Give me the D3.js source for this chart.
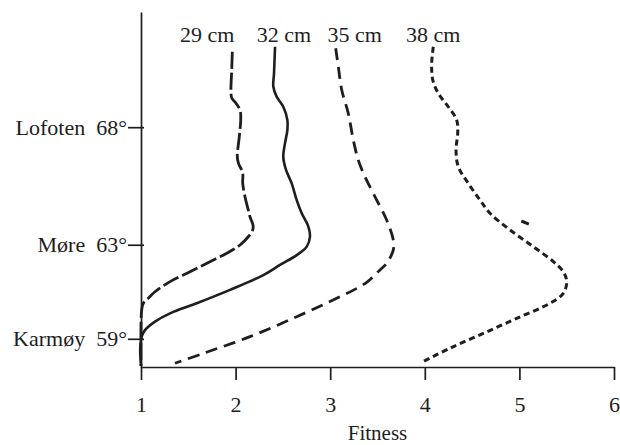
<!DOCTYPE html>
<html>
<head>
<meta charset="utf-8">
<script src="https://cdn.jsdelivr.net/npm/d3@7"></script>
<style>
  html, body { margin: 0; padding: 0; background: #fff; }
  svg { display: block; }
  text { font-family: "Liberation Serif", "Times New Roman", serif; fill: #1e1e1e; }
</style>
</head>
<body>
<svg id="chart" width="620" height="445"></svg>
<script>
// Axis ticks
const fitnessTicks = [1, 2, 3, 4, 5, 6];
const latitudeTicks = [59, 63, 68];
const siteNames = ["Karmøy", "Møre", "Lofoten"];
const lengthLabels = ["29 cm", "32 cm", "35 cm", "38 cm"];

// Fitness profiles along the coast: [fitness, latitude °N]
const fitness29cm = [
  [1.965, 71.21], [1.959, 70.43], [1.951, 69.58], [1.959, 69.24], [1.994, 69.07],
  [2.047, 68.73], [2.054, 68.31], [2.039, 67.60], [2.018, 66.75], [2.029, 66.48],
  [2.075, 66.05], [2.075, 65.63], [2.099, 65.04], [2.134, 64.48], [2.152, 64.19],
  [2.184, 63.84], [2.181, 63.63], [2.134, 63.34], [2.047, 62.99], [1.906, 62.64],
  [1.729, 62.28], [1.518, 61.85], [1.307, 61.43], [1.148, 61.00], [1.077, 60.72],
  [1.024, 60.51], [1.007, 60.22], [1.000, 59.60], [1.000, 57.85]
];
const fitness32cm = [
  [2.417, 71.42], [2.406, 70.29], [2.399, 69.72], [2.434, 69.30], [2.504, 68.87],
  [2.547, 68.31], [2.547, 67.88], [2.522, 67.31], [2.504, 66.75], [2.533, 66.18],
  [2.593, 65.61], [2.646, 64.90], [2.699, 64.34], [2.769, 63.77], [2.786, 63.34],
  [2.752, 62.92], [2.646, 62.56], [2.469, 62.14], [2.293, 61.71], [1.941, 61.08],
  [1.589, 60.51], [1.307, 60.08], [1.148, 59.73], [1.042, 59.37], [1.007, 59.09],
  [0.992, 58.60], [1.000, 57.85]
];
const fitness35cm = [
  [3.058, 71.36], [3.086, 70.57], [3.122, 69.58], [3.191, 68.59], [3.244, 67.46],
  [3.297, 66.60], [3.368, 65.89], [3.474, 65.04], [3.597, 64.05], [3.667, 63.20],
  [3.667, 62.78], [3.597, 62.21], [3.526, 61.93], [3.386, 61.40], [3.104, 60.79],
  [2.646, 59.94], [2.152, 59.09], [1.659, 58.38], [1.359, 57.96]
];
const fitness38cm = [
  [4.090, 71.42], [4.073, 70.72], [4.084, 70.01], [4.143, 69.44], [4.248, 68.87],
  [4.337, 68.31], [4.348, 67.74], [4.330, 67.03], [4.354, 66.32], [4.460, 65.61],
  [4.584, 64.90], [4.689, 64.34], [4.901, 63.63], [5.147, 62.92], [5.359, 62.28],
  [5.464, 61.85], [5.500, 61.43], [5.464, 60.93], [5.323, 60.51], [4.971, 59.87],
  [4.618, 59.23], [4.266, 58.60], [3.984, 58.03]
];
// short isolated stroke beside the 38 cm profile
const fragment38cm = [[5.02, 64.01], [5.10, 63.88]];

const profiles = [fitness29cm, fitness32cm, fitness35cm, fitness38cm];

// Drawing styles per profile
const lineStyles = [
  { dash: "17,4", width: 2.8, labelDx: -25 },
  { dash: null,   width: 2.6, labelDx: 9 },
  { dash: "12,7", width: 2.8, labelDx: 19 },
  { dash: "6,4",  width: 3.0, labelDx: 0 }
];

const svg = d3.select("#chart");
const ink = "#1e1e1e";
const fontSize = 22;

const x = d3.scaleLinear().domain([1, 6]).range([141, 614]);
const y = d3.scaleLinear().domain([57.8, 72.9]).range([367, 12]);

// x axis
const xAxis = svg.append("g")
  .attr("transform", `translate(0,${y.range()[0]})`)
  .call(d3.axisBottom(x).tickValues(fitnessTicks).tickFormat(d3.format("d"))
    .tickSize(13).tickSizeOuter(0).tickPadding(16));
// y axis
const yAxis = svg.append("g")
  .attr("transform", `translate(${x.range()[0]},0)`)
  .call(d3.axisLeft(y).tickValues(latitudeTicks)
    .tickFormat((d, i) => siteNames[i] + "\u00a0\u00a0" + d + "°")
    .tickSize(13).tickSizeOuter(0).tickPadding(1));

[xAxis, yAxis].forEach(g => {
  g.select(".domain").attr("stroke", ink).attr("stroke-width", 1.7);
  g.selectAll(".tick line").attr("stroke", ink).attr("stroke-width", 1.7);
  g.selectAll(".tick text")
    .attr("fill", ink)
    .style("font-size", fontSize + "px")
    .style("font-family", '"Liberation Serif", "Times New Roman", serif');
});
yAxis.selectAll(".tick line").attr("x1", 3);

// axis title
svg.append("text")
  .attr("x", (x(3) + x(4)) / 2)
  .attr("y", 440)
  .attr("text-anchor", "middle")
  .style("font-size", (fontSize - 1) + "px")
  .text("Fitness");

// profiles
const line = d3.line()
  .x(d => x(d[0]))
  .y(d => y(d[1]))
  .curve(d3.curveCatmullRom.alpha(0.5));

profiles.forEach((data, i) => {
  const s = lineStyles[i];
  svg.append("path")
    .datum(data)
    .attr("d", line)
    .attr("fill", "none")
    .attr("stroke", ink)
    .attr("stroke-width", s.width)
    .attr("stroke-linejoin", "round")
    .attr("stroke-dasharray", s.dash);

  const top = data[0];
  svg.append("text")
    .attr("x", x(top[0]) + s.labelDx)
    .attr("y", 42)
    .attr("text-anchor", "middle")
    .style("font-size", fontSize + "px")
    .text(lengthLabels[i]);
});

svg.append("path")
  .datum(fragment38cm)
  .attr("d", d3.line().x(d => x(d[0])).y(d => y(d[1])))
  .attr("fill", "none")
  .attr("stroke", ink)
  .attr("stroke-width", 3.0);
</script>
</body>
</html>
